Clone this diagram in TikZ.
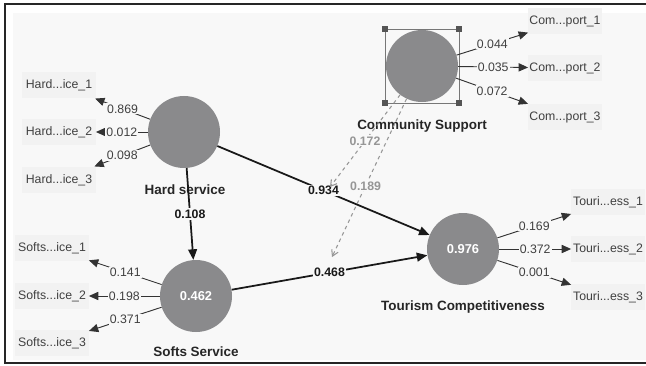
\documentclass[tikz,border=0pt]{standalone}
\usepackage{fontspec}
\setmainfont{Liberation Sans}
\usetikzlibrary{arrows.meta,positioning,calc}
\definecolor{plsbg}{RGB}{248,248,248}
\definecolor{plsbox}{RGB}{242,242,242}
\definecolor{plsgrey}{RGB}{138,138,140}
\definecolor{plsdash}{RGB}{150,150,150}
\definecolor{plssel}{RGB}{85,85,85}

\begin{document}
\begin{tikzpicture}[x=0.03cm, y=-0.03cm,
    latent/.style={circle, fill=plsgrey, minimum size=2.16cm, inner sep=0pt,
      text=white, font=\fontsize{11}{13}\selectfont\bfseries},
    lvname/.style={font=\fontsize{11.5}{13}\selectfont\bfseries, text=black!85},
    ind/.style={rectangle, fill=plsbox, minimum width=2.2cm, minimum height=0.8cm,
      inner sep=1pt, font=\fontsize{10.5}{12}\selectfont, text=black!75},
    load/.style={fill=plsbg, inner sep=1pt, font=\fontsize{10.5}{12}\selectfont, text=black!75},
    coef/.style={fill=plsbg, inner sep=1pt, font=\fontsize{10.5}{12}\selectfont\bfseries},
    modlbl/.style={fill=plsbg, inner sep=1pt, text=plsdash, font=\fontsize{10.5}{12}\selectfont\bfseries},
    arr/.style={-{Triangle[length=8pt,width=7pt]}, line width=0.8pt, black!80},
    patharr/.style={-{Triangle[length=9pt,width=7.5pt]}, line width=1.5pt, black!90},
    modarr/.style={-{Straight Barb[length=5pt,width=6pt]}, dashed, line width=0.9pt, plsdash},
    handle/.style={rectangle, fill=plssel, minimum size=0.2cm, inner sep=0pt}
  ]
    \useasboundingbox (0,0) rectangle (646,365);
    % Canvas
    \fill[white] (0,0) rectangle (646,365);
    \fill[plsbg] (13,13) rectangle (646,360);
    \draw[line width=1pt, black!85] (646,4) -- (5,4) -- (5,363) -- (646,363);
    % Latent variables
    \node[latent] (hs) at (184,132) {};
    \node[lvname] (hsn) at (185,190) {Hard service};
    \node[latent] (ss) at (196,296) {0.462};
    \node[lvname] (ssn) at (196,352) {Softs Service};
    \node[latent] (cs) at (422,66) {};
    \node[lvname] (csn) at (422,126) {Community Support};
    \node[latent] (tc) at (463,249) {0.976};
    \node[lvname] (tcn) at (463,307) {Tourism Competitiveness};
    % Selection frame
    \draw[plssel!80, line width=0.8pt] ($(cs)+(-37,-37)$) rectangle ($(cs)+(37,37)$);
    \foreach \dx/\dy [count=\i] in {-37/-37,37/-37,37/37,-37/37}
      \node[handle] (h\i) at ($(cs)+(\dx,\dy)$) {};
    % Indicators
    \node[ind] (hi1) at (59,85) {Hard...ice\_1};
    \node[ind] (hi2) at (59,132) {Hard...ice\_2};
    \node[ind] (hi3) at (59,180) {Hard...ice\_3};
    \node[ind] (si1) at (52,248) {Softs...ice\_1};
    \node[ind] (si2) at (52,296) {Softs...ice\_2};
    \node[ind] (si3) at (52,343) {Softs...ice\_3};
    \node[ind] (ci1) at (565,21) {Com...port\_1};
    \node[ind] (ci2) at (565,68) {Com...port\_2};
    \node[ind] (ci3) at (565,117) {Com...port\_3};
    \node[ind] (ti1) at (608,202) {Touri...ess\_1};
    \node[ind] (ti2) at (608,249) {Touri...ess\_2};
    \node[ind] (ti3) at (608,297) {Touri...ess\_3};
    % Outer loadings
    \draw[arr] (hs) -- node[load] (lh1) {0.869} (hi1);
    \draw[arr] (hs) -- node[load] (lh2) {0.012} (hi2);
    \draw[arr] (hs) -- node[load] (lh3) {0.098} (hi3);
    \draw[arr] (ss) -- node[load] (ls1) {0.141} (si1);
    \draw[arr] (ss) -- node[load] (ls2) {0.198} (si2);
    \draw[arr] (ss) -- node[load] (ls3) {0.371} (si3);
    \draw[arr] (cs) -- node[load] (lc1) {0.044} (ci1);
    \draw[arr] (cs) -- node[load] (lc2) {0.035} (ci2);
    \draw[arr] (cs) -- node[load] (lc3) {0.072} (ci3);
    \draw[arr] (tc) -- node[load] (lt1) {0.169} (ti1);
    \draw[arr] (tc) -- node[load] (lt2) {0.372} (ti2);
    \draw[arr] (tc) -- node[load] (lt3) {0.001} (ti3);
    % Inner paths
    \draw[patharr] (hs) -- node[coef] (p1) {0.934} (tc);
    \draw[patharr] (hs) -- node[coef] (p2) {0.108} (ss);
    \draw[patharr] (ss) -- node[coef] (p3) {0.468} (tc);
    % Moderating effects (dashed)
    \coordinate (m1) at (330,187);
    \coordinate (m2) at (332,257);
    \draw[modarr] (cs) -- node[modlbl, pos=0.5] (e1) {0.172} (m1);
    \draw[modarr] (cs) -- node[modlbl, pos=0.55] (e2) {0.189} (m2);
  \end{tikzpicture}
\end{document}
